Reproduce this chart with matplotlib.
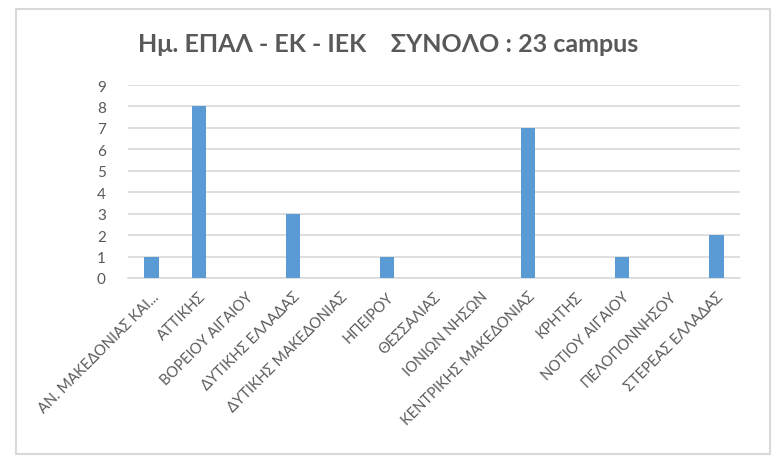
import matplotlib
matplotlib.use("Agg")
import matplotlib.pyplot as plt
from matplotlib.patches import Rectangle

# data
regions = [
    "ΑΝ. ΜΑΚΕΔΟΝΙΑΣ ΚΑΙ...",
    "ΑΤΤΙΚΗΣ",
    "ΒΟΡΕΙΟΥ ΑΙΓΑΙΟΥ",
    "ΔΥΤΙΚΗΣ ΕΛΛΑΔΑΣ",
    "ΔΥΤΙΚΗΣ ΜΑΚΕΔΟΝΙΑΣ",
    "ΗΠΕΙΡΟΥ",
    "ΘΕΣΣΑΛΙΑΣ",
    "ΙΟΝΙΩΝ ΝΗΣΩΝ",
    "ΚΕΝΤΡΙΚΗΣ ΜΑΚΕΔΟΝΙΑΣ",
    "ΚΡΗΤΗΣ",
    "ΝΟΤΙΟΥ ΑΙΓΑΙΟΥ",
    "ΠΕΛΟΠΟΝΝΗΣΟΥ",
    "ΣΤΕΡΕΑΣ ΕΛΛΑΔΑΣ",
]
campus = [1, 8, 0, 3, 0, 1, 0, 0, 7, 0, 1, 0, 2]
yticks = list(range(0, 10))

TEXT = "#595959"
BAR = "#5B9BD5"
GRID = "#D9D9D9"

plt.rcParams["font.family"] = ["Lato", "DejaVu Sans"]

W, H = 776, 464
fig = plt.figure(figsize=(W / 100, H / 100), dpi=100)
fig.patch.set_facecolor("white")

# outer chart frame
fig.patches.append(Rectangle((16 / W, 1 - 455 / H), 754 / W, 445 / H,
                             transform=fig.transFigure, fill=False,
                             edgecolor=GRID, linewidth=1.5))

ax = fig.add_axes([128 / W, 1 - 279 / H, 612 / W, 193 / H])
x = range(len(regions))
ax.bar(x, campus, width=0.3, color=BAR, zorder=3)

ax.set_xlim(-0.5, len(regions) - 0.5)
ax.set_ylim(0, 9)
ax.set_yticks(yticks)
ax.yaxis.grid(True, color=GRID, linewidth=1.2)
ax.set_axisbelow(True)
for s in ["top", "right", "left"]:
    ax.spines[s].set_visible(False)
ax.spines["bottom"].set_color(GRID)
ax.spines["bottom"].set_linewidth(1.2)
ax.tick_params(axis="both", length=0, colors=TEXT)
ax.tick_params(axis="y", pad=16, labelsize=11)
ax.tick_params(axis="x", pad=8)

ax.set_xticks(list(x))
ax.set_xticklabels(regions, rotation=45, ha="right", rotation_mode="anchor",
                   fontsize=10.5, color=TEXT)

fig.text(0.5, 1 - 45 / H, "Ημ. ΕΠΑΛ - ΕΚ - ΙΕΚ    ΣΥΝΟΛΟ : 23 campus",
         ha="center", va="center", fontsize=18, fontweight="bold", color=TEXT)

fig.savefig("out.png", dpi=100)
